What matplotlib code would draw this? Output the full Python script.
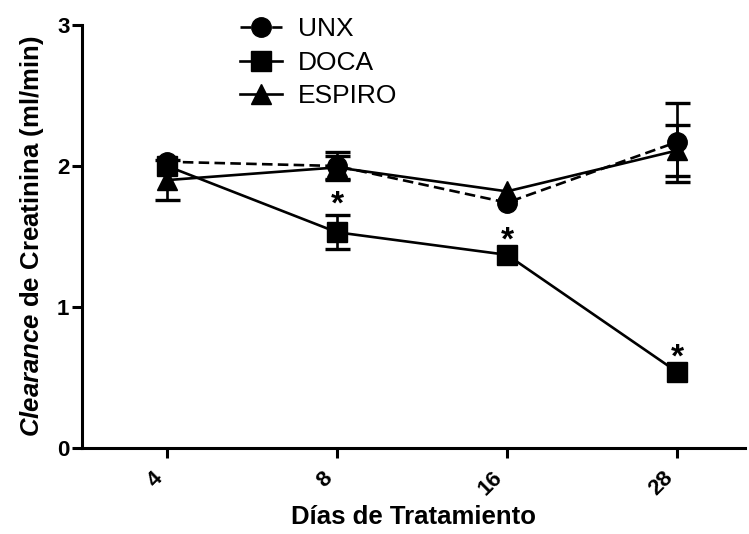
import numpy as np
import matplotlib
matplotlib.use("Agg")
import matplotlib.pyplot as plt
from matplotlib.lines import Line2D

plt.rcParams['font.family'] = ['Liberation Sans', 'DejaVu Sans']
plt.rcParams['mathtext.fontset'] = 'custom'
plt.rcParams['mathtext.it'] = 'Liberation Sans:bold:italic'
plt.rcParams['mathtext.rm'] = 'Liberation Sans:bold'

# DATA (0 = error hidden behind the marker)
dias = ["4", "8", "16", "28"]
unx_mean = [2.03, 2.00, 1.74, 2.17]
unx_err = [0.0, 0.10, 0.0, 0.28]
doca_mean = [2.00, 1.53, 1.37, 0.54]
doca_err = [0.0, 0.12, 0.0, 0.0]
espiro_mean = [1.90, 1.99, 1.82, 2.11]
espiro_err = [0.14, 0.08, 0.0, 0.18]
doca_signif = [False, True, True, True]


def err(vals):
    a = np.array(vals, dtype=float)
    a[a == 0] = np.nan
    return a


fig = plt.figure(figsize=(7.49, 5.34), dpi=100)
ax = fig.add_axes([82/749, 1-448/534, (745-82)/749, (448-25)/534])

x = np.arange(len(dias))
lw = 1.9
ms = 14
common = dict(color="black", ecolor="black", elinewidth=lw, capsize=9,
              capthick=2.4, markersize=ms, linewidth=lw)

ax.errorbar(x, espiro_mean, yerr=err(espiro_err), fmt="-^", zorder=3, **common)
ax.errorbar(x, doca_mean, yerr=err(doca_err), fmt="-s", zorder=4, **common)
ax.errorbar(x, unx_mean, yerr=err(unx_err), fmt="--o", dashes=(4, 2), zorder=5, **common)

# asteriscos de significancia
for xi, m, e, s in zip(x, doca_mean, doca_err, doca_signif):
    if s:
        top = m + max(e, 0.03)
        ax.annotate("*", xy=(xi, top), xytext=(0, -4), textcoords="offset points",
                    ha="center", va="bottom", fontsize=24, fontweight="bold")

ax.set_xlim(-0.5, 3.4)
ax.set_ylim(0, 3)
ax.set_xticks(x)
ax.set_xticklabels(dias, rotation=45, ha="right", fontsize=16, fontweight="bold")
ax.set_yticks([0, 1, 2, 3])
ax.set_yticklabels(["0", "1", "2", "3"], fontsize=16, fontweight="bold")
for side in ["top", "right"]:
    ax.spines[side].set_visible(False)
for side in ["left", "bottom"]:
    ax.spines[side].set_linewidth(2.2)
ax.tick_params(width=2.2, length=7, direction="out", pad=2)
ax.tick_params(axis="x", pad=7)

ax.set_ylabel(r"$\it{Clearance}$ de Creatinina (ml/min)", fontsize=18.5,
              fontweight="bold", labelpad=8)
ax.set_xlabel("Días de Tratamiento", fontsize=18.5, fontweight="bold", labelpad=4)

leg_handles = [
    Line2D([], [], color="black", marker="o", linestyle="--", dashes=(4, 2),
           linewidth=lw, markersize=ms),
    Line2D([], [], color="black", marker="s", linestyle="-", linewidth=lw, markersize=ms),
    Line2D([], [], color="black", marker="^", linestyle="-", linewidth=lw, markersize=ms),
]
ax.legend(leg_handles, ["UNX", "DOCA", "ESPIRO"],
          loc="upper left", bbox_to_anchor=(0.202, 1.074), frameon=False,
          fontsize=19, handlelength=1.6, labelspacing=0.36, handletextpad=0.6)

fig.savefig("out.png", dpi=100)
